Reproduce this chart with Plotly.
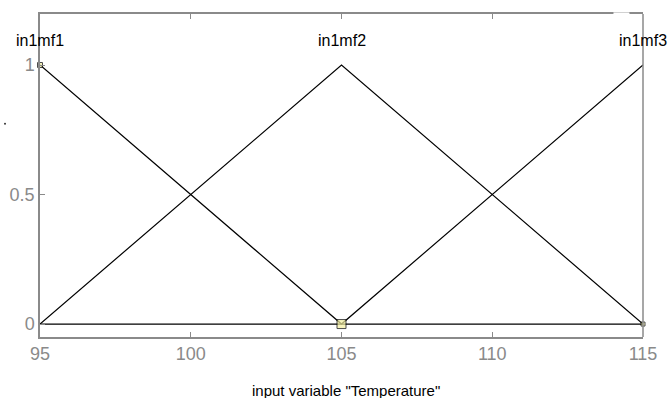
import plotly.graph_objects as go

# Data
mf_names = ["in1mf1", "in1mf2", "in1mf3"]
mf_x = [[95, 105, 115], [95, 105, 115], [95, 105, 115]]
mf_y = [[1, 0, 0], [0, 1, 0], [0, 0, 1]]
label_x = [95, 105, 115]
marker_x = [95, 105, 115]
marker_y = [1, 0, 0]
marker_size = [5, 9, 4]
x_ticks = [95, 100, 105, 110, 115]
y_ticks = [0, 0.5, 1]
y_tick_text = ["0", "0.5", "1"]
x_title = 'input variable "Temperature"'

FONT = "Liberation Sans, Arial"
GRAY = "#8a8a8a"

fig = go.Figure()
for name, xs, ys in zip(mf_names, mf_x, mf_y):
    fig.add_trace(go.Scatter(x=xs, y=ys, mode="lines", name=name,
                             line=dict(color="black", width=1.2),
                             showlegend=False, hoverinfo="skip"))

fig.add_trace(go.Scatter(x=marker_x, y=marker_y, mode="markers",
                         marker=dict(symbol="square", size=marker_size,
                                     color="#f4f0a0",
                                     line=dict(color="black", width=1)),
                         showlegend=False, hoverinfo="skip", cliponaxis=False))

for name, lx in zip(mf_names, label_x):
    fig.add_annotation(x=lx, y=1, xref="x", yref="y", text=name,
                       showarrow=False, yshift=25,
                       font=dict(family=FONT, size=16, color="black"))

# x-axis label
fig.add_annotation(x=0.5, y=0, xref="paper", yref="paper", text=x_title,
                   showarrow=False, yanchor="top", yshift=-43, xshift=4,
                   font=dict(family=FONT, size=15, color="black"))

# right side of the frame
fig.add_shape(type="line", xref="paper", yref="paper", x0=1, x1=1, y0=0, y1=1,
              line=dict(color=GRAY, width=1.5))
# small gap in the top frame line
fig.add_shape(type="rect", xref="x", yref="paper", x0=114.02, x1=114.55,
              y0=0.995, y1=1.005, fillcolor="white", line=dict(width=0),
              layer="above")
# small stray dot at the far left
fig.add_shape(type="circle", xref="paper", yref="paper", xsizemode="pixel",
              ysizemode="pixel", xanchor=-0.058, yanchor=0.66,
              x0=-1, x1=1, y0=-1, y1=1, fillcolor="#333", line=dict(width=0))

fig.update_xaxes(range=[95, 115], tickvals=x_ticks, ticks="inside", ticklen=5,
                 tickcolor=GRAY, showline=True, linecolor=GRAY, linewidth=1.5,
                 showgrid=False, zeroline=False, mirror="ticks",
                 tickfont=dict(family=FONT, size=18, color=GRAY))
fig.update_yaxes(range=[-0.05, 1.197], tickvals=y_ticks, ticktext=y_tick_text,
                 ticks="inside", ticklen=5, tickcolor=GRAY, showline=True,
                 linecolor=GRAY, linewidth=1.5, showgrid=False, zeroline=False,
                 tickfont=dict(family=FONT, size=18, color=GRAY))

fig.update_layout(width=668, height=398, plot_bgcolor="white", paper_bgcolor="white",
                  margin=dict(l=40, r=25, t=14, b=61, autoexpand=False))

fig.write_html("out.html", config={"displayModeBar": False},
               post_script="document.body.style.margin='0';document.body.style.overflow='hidden';")
